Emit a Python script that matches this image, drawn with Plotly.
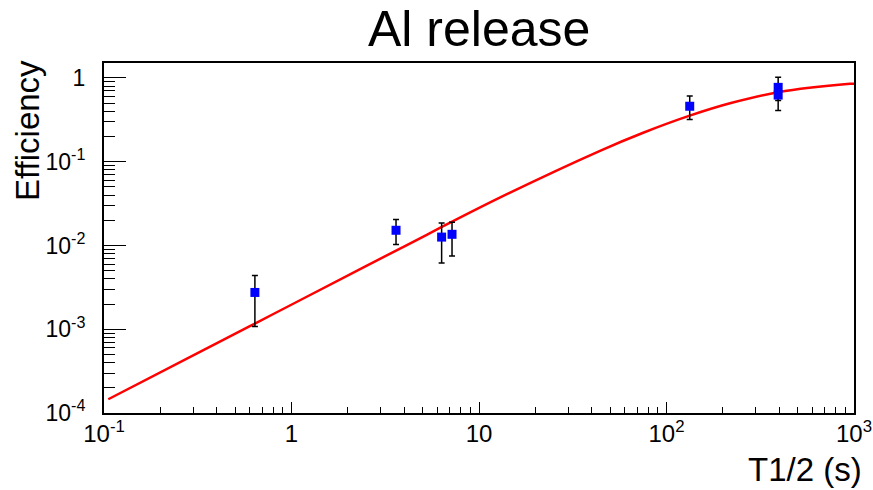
import plotly.graph_objects as go

# Measured points (half-life in s, efficiency with asymmetric error range)
t_half = [0.638, 3.61, 6.32, 7.18, 133, 394, 394]
eff = [2.75e-3, 1.52e-2, 1.26e-2, 1.36e-2, 0.46, 0.773, 0.625]
eff_hi = [4.37e-3, 2.04e-2, 1.85e-2, 1.90e-2, 0.61, 1.02, 0.851]
eff_lo = [1.08e-3, 1.03e-2, 6.2e-3, 7.5e-3, 0.32, 0.538, 0.408]

# Fit curve
fit_t = [0.1054, 0.325, 0.638, 1.11, 3.79, 12.9, 44.2, 75.1, 133, 218, 394, 952, 1000]
fit_eff = [1.46e-4, 5.38e-4, 1.17e-3, 2.22e-3, 9.19e-3, 3.72e-2, 0.135, 0.222, 0.355, 0.499, 0.676, 0.851, 0.856]

x_tickvals = [0.1, 1, 10, 100, 1000]
x_ticktext = ["10<sup>-1</sup>", "1", "10", "10<sup>2</sup>", "10<sup>3</sup>"]
y_tickvals = [1e-4, 1e-3, 1e-2, 1e-1, 1]
y_ticktext = ["10<sup>-4</sup>", "10<sup>-3</sup>", "10<sup>-2</sup>", "10<sup>-1</sup>", "1"]

FONT = "Liberation Sans, Arial, Helvetica, sans-serif"

err_plus = [h - e for h, e in zip(eff_hi, eff)]
err_minus = [e - l for e, l in zip(eff, eff_lo)]

fig = go.Figure()
fig.add_trace(go.Scatter(
    x=fit_t, y=fit_eff, mode="lines",
    line=dict(color="#ff0000", width=2.5, shape="spline", smoothing=1.0),
    showlegend=False, hoverinfo="skip"))
fig.add_trace(go.Scatter(
    x=t_half, y=eff, mode="markers",
    marker=dict(symbol="square", size=9, color="#0000ff", line=dict(width=0)),
    error_y=dict(type="data", symmetric=False, array=err_plus, arrayminus=err_minus,
                 color="black", thickness=1.5, width=3),
    showlegend=False))

fig.update_layout(
    width=873, height=490,
    margin=dict(l=104, r=19, t=63, b=77, autoexpand=False),
    paper_bgcolor="white", plot_bgcolor="white",
    font=dict(family=FONT, color="black"),
    showlegend=False,
    annotations=[
        dict(text="Al release", xref="paper", yref="paper", x=0.5, y=1.0,
             yshift=34, xanchor="center", yanchor="middle", showarrow=False,
             font=dict(size=50, family=FONT, color="black")),
        dict(text="T1/2 (s)", xref="paper", yref="paper", x=1.0, y=0.0,
             xshift=10, yshift=-56, xanchor="right", yanchor="middle", showarrow=False,
             font=dict(size=33, family=FONT, color="black")),
        dict(text="Efficiency", xref="paper", yref="paper", x=0.0, y=1.0,
             xshift=-77, yshift=-68, xanchor="center", yanchor="middle", textangle=-90,
             showarrow=False, font=dict(size=33, family=FONT, color="black")),
    ],
)

fig.update_xaxes(
    type="log", range=[-1, 3], automargin=False,
    tickvals=x_tickvals, ticktext=x_ticktext,
    ticks="inside", ticklen=11, tickwidth=1.2, tickcolor="black",
    minor=dict(ticks="inside", ticklen=6, tickwidth=1.2, tickcolor="black", dtick="D1", showgrid=False),
    showline=True, linecolor="black", linewidth=2, mirror=True,
    showgrid=False, zeroline=False,
    tickfont=dict(size=24, family=FONT, color="black"),
    ticklabelstandoff=-2,
)
fig.update_yaxes(
    type="log", range=[-4, 0.179], automargin=False,
    tickvals=y_tickvals, ticktext=y_ticktext,
    ticks="inside", ticklen=22, tickwidth=1.2, tickcolor="black",
    minor=dict(ticks="inside", ticklen=11, tickwidth=1.2, tickcolor="black", dtick="D1", showgrid=False),
    showline=True, linecolor="black", linewidth=2, mirror=True,
    showgrid=False, zeroline=False,
    tickfont=dict(size=23, family=FONT, color="black"),
    ticklabelstandoff=12,
)

fig.write_html("out.html")
